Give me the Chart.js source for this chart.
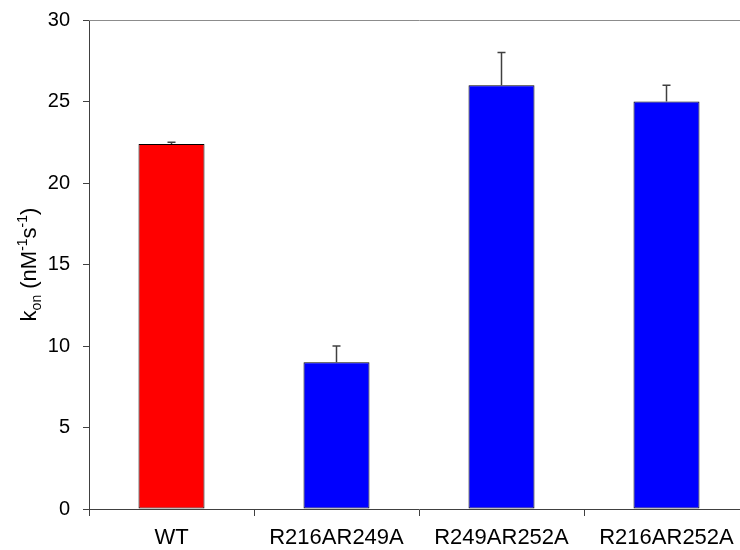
<!DOCTYPE html>
<html>
<head>
<meta charset="utf-8">
<style>
	html, body { margin: 0; padding: 0; background: #fff; overflow: hidden; }
	#wrap { width: 740px; height: 550px; overflow: hidden; }
	#wrap canvas { display: block; }
</style>
<script src="https://cdn.jsdelivr.net/npm/chart.js@4"></script>
</head>
<body>
<div id="wrap"><canvas id="kon" width="750" height="550"></canvas></div>
<script>
/* k_on bar chart */

// ── Data ─────────────────────────────────────────────────────────────────

var categories = ['WT', 'R216AR249A', 'R249AR252A', 'R216AR252A'];
var konValues  = [22.4, 9, 26, 25];
var konErrors  = [0.1, 1, 2, 1];
var barColors  = ['#ff0000', '#0000ff', '#0000ff', '#0000ff'];
var yTicks     = [0, 5, 10, 15, 20, 25, 30];

(function () {
	'use strict';

	var FONT = "'Liberation Sans', Arial, sans-serif";

	// ── Plugins ──────────────────────────────────────────────────────────────

	// Error bars (upper half only) and the grey frame line at the top.
	var errorBars = {
		id: 'errorBars',
		afterDatasetsDraw: function (chart) {
			var ctx  = chart.ctx;
			var y    = chart.scales.y;
			var meta = chart.getDatasetMeta(0);
			var area = chart.chartArea;

			ctx.save();
			ctx.strokeStyle = '#8c8c8c';
			ctx.lineWidth = 1;
			ctx.beginPath();
			ctx.moveTo(area.left, Math.round(y.getPixelForValue(30)) + 0.5);
			ctx.lineTo(chart.width, Math.round(y.getPixelForValue(30)) + 0.5);
			ctx.stroke();

			ctx.strokeStyle = '#404040';
			ctx.lineWidth = 1.5;
			meta.data.forEach(function (bar, i) {
				var top = y.getPixelForValue(konValues[i]);
				var end = y.getPixelForValue(konValues[i] + konErrors[i]);
				ctx.beginPath();
				ctx.moveTo(bar.x, top);
				ctx.lineTo(bar.x, end);
				ctx.moveTo(bar.x - 4, end);
				ctx.lineTo(bar.x + 4, end);
				ctx.stroke();
			});
			ctx.restore();
		}
	};

	// Rotated y title with subscript / superscripts.
	var yTitle = {
		id: 'yTitle',
		afterDraw: function (chart) {
			var ctx  = chart.ctx;
			var area = chart.chartArea;
			var parts = [
				{ t: 'k', s: 22, dy: 0 },
				{ t: 'on', s: 14, dy: 5 },
				{ t: ' (nM', s: 22, dy: 0 },
				{ t: '-1', s: 14, dy: -9 },
				{ t: 's', s: 22, dy: 0 },
				{ t: '-1', s: 14, dy: -9 },
				{ t: ')', s: 22, dy: 0 }
			];
			var total = 0;
			ctx.save();
			parts.forEach(function (p) {
				ctx.font = p.s + 'px ' + FONT;
				p.w = ctx.measureText(p.t).width;
				total += p.w;
			});
			ctx.translate(36, (area.top + area.bottom) / 2);
			ctx.rotate(-Math.PI / 2);
			ctx.fillStyle = '#000';
			ctx.textBaseline = 'alphabetic';
			var x = -total / 2;
			parts.forEach(function (p) {
				ctx.font = p.s + 'px ' + FONT;
				ctx.fillText(p.t, x, p.dy);
				x += p.w;
			});
			ctx.restore();
		}
	};

	// ── Chart ────────────────────────────────────────────────────────────────

	new Chart(document.getElementById('kon'), {
		type: 'bar',
		data: {
			labels: categories,
			datasets: [{
				data: konValues,
				backgroundColor: barColors,
				borderColor: '#000',
				borderWidth: 1,
				borderSkipped: false,
				barPercentage: 0.4,
				categoryPercentage: 1
			}]
		},
		options: {
			responsive: false,
			animation: false,
			layout: { padding: { top: 20, right: 1, left: 0, bottom: 0 } },
			plugins: { legend: { display: false }, tooltip: { enabled: false } },
			scales: {
				x: {
					offset: true,
					grid: { offset: true, drawOnChartArea: false, tickLength: 7, color: '#404040' },
					border: { color: '#404040', width: 1 },
					ticks: { color: '#000', font: { family: FONT, size: 22 }, padding: 9, maxRotation: 0 },
					afterFit: function (s) { s.height = 41; s.paddingLeft = 0; s.paddingRight = 0; }
				},
				y: {
					min: 0,
					max: 30,
					afterBuildTicks: function (s) {
						s.ticks = yTicks.map(function (v) { return { value: v }; });
					},
					grid: { drawOnChartArea: false, tickLength: 6, color: '#404040' },
					border: { color: '#404040', width: 1 },
					ticks: { color: '#000', font: { family: FONT, size: 20 }, padding: 13 },
					afterFit: function (s) { s.width = 89; s.paddingTop = 0; s.paddingBottom = 0; }
				}
			}
		},
		plugins: [errorBars, yTitle]
	});
}());
</script>
</body>
</html>
